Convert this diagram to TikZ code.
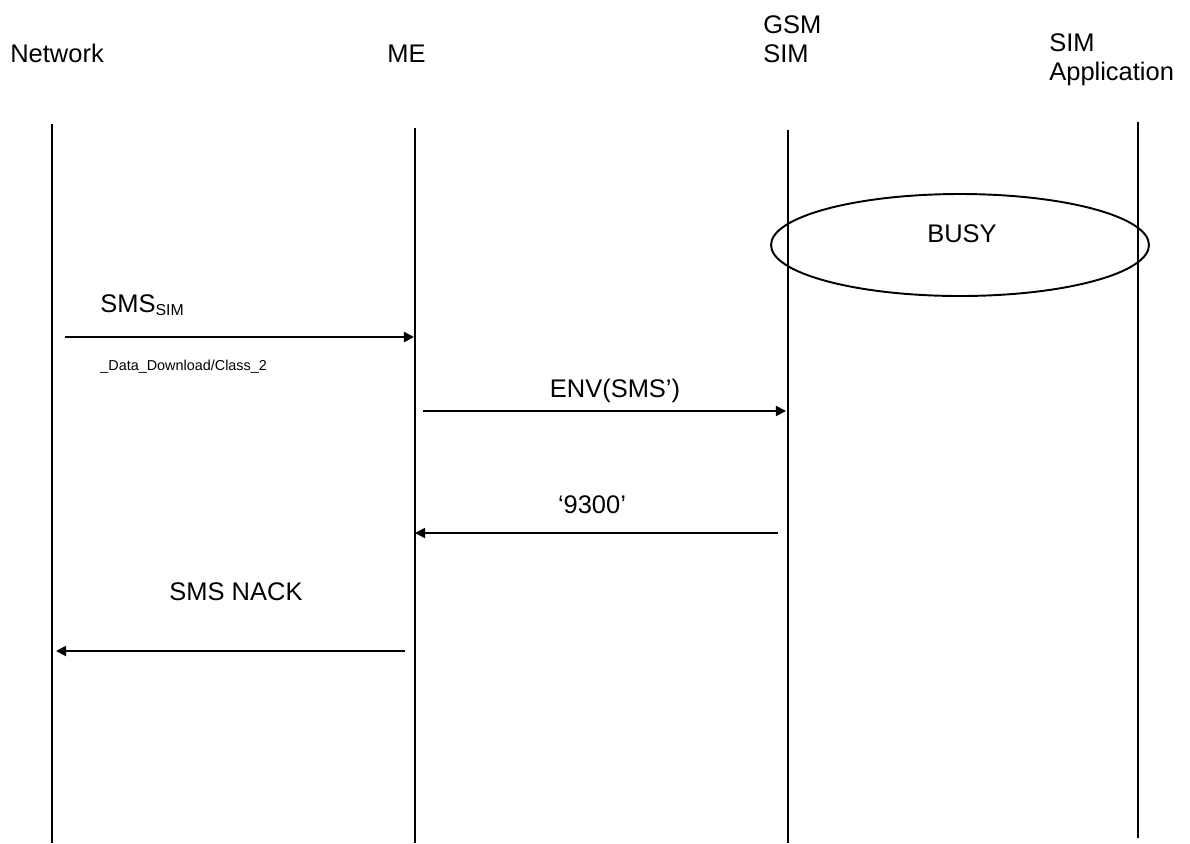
\documentclass[tikz,border=0pt]{standalone}
\usepackage{fontspec}
\setmainfont{Liberation Sans}
\usetikzlibrary{positioning, arrows.meta}

\tikzset{
  lifeline/.style={line width=1.1pt},
  msg/.style={line width=1.1pt, -{Triangle[length=5.7pt, width=5.7pt]}},
  actor/.style={font=\fontsize{14.5}{16.5}\selectfont, align=left, inner sep=0pt},
  msglabel/.style={font=\fontsize{14.5}{16.5}\selectfont, inner sep=0pt, anchor=base}
}

\begin{document}
\begin{tikzpicture}[x=0.02cm, y=-0.02cm]
    \useasboundingbox (0,0) rectangle (1190,843);
    % actors
    \node[actor, anchor=base west] (net) at (10,62) {Network};
    \node[actor, anchor=base west] (me) at (387,62) {ME};
    \node[actor, anchor=north west] (sim) at (763,15) {GSM\\SIM};
    \node[actor, anchor=north west] (app) at (1049,33) {SIM\\Application};
    % lifelines
    \coordinate (netT) at (52,124);  \coordinate (netB) at (52,843);
    \coordinate (meT) at (415,128);  \coordinate (meB) at (415,843);
    \coordinate (simT) at (788,130); \coordinate (simB) at (788,843);
    \coordinate (appT) at (1138,122); \coordinate (appB) at (1138,838);
    \foreach \l in {net,me,sim,app}{\draw[lifeline] (\l T) -- (\l B);}
    % busy state
    \draw[line width=1.1pt] (960,245) ellipse[x radius=189, y radius=51];
    \node[msglabel] (busy) at (962,242) {BUSY};
    % messages
    \coordinate (m1a) at (65,337);  \coordinate (m1b) at (414,337);
    \coordinate (m2a) at (423,411); \coordinate (m2b) at (786,411);
    \coordinate (m3a) at (778,533); \coordinate (m3b) at (415,533);
    \coordinate (m4a) at (405,651); \coordinate (m4b) at (56,651);
    \draw[msg] (m1a) -- (m1b);
    \draw[msg] (m2a) -- (m2b);
    \draw[msg] (m3a) -- (m3b);
    \draw[msg] (m4a) -- (m4b);
    \node[msglabel, anchor=base west] (l1) at (100,312) {SMS\textsubscript{\fontsize{9}{10}\selectfont SIM}};
    \node[msglabel, anchor=base west, font=\fontsize{8.2}{9}\selectfont] (l1b) at (100,370) {\_Data\_Download/Class\_2};
    \node[msglabel] (l2) at (615,397) {ENV(SMS’)};
    \node[msglabel] (l3) at (592,513) {‘9300’};
    \node[msglabel] (l4) at (236,600) {SMS NACK};
  \end{tikzpicture}
\end{document}
